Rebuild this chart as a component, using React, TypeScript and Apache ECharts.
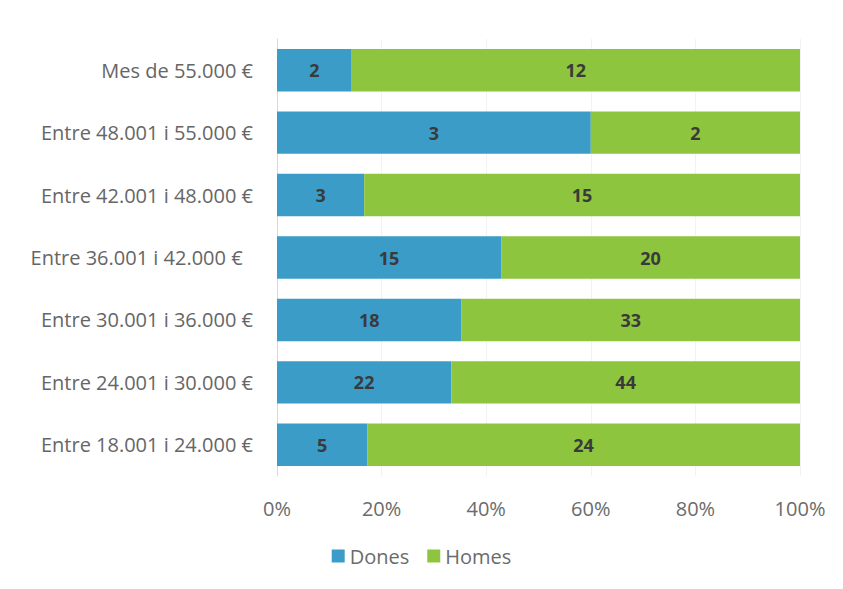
import React, { useEffect, useRef } from "react";
import * as echarts from "echarts";

const categories = [
  "Entre 18.001 i 24.000 €",
  "Entre 24.001 i 30.000 €",
  "Entre 30.001 i 36.000 €",
  "Entre 36.001 i 42.000 €\u00a0\u00a0",
  "Entre 42.001 i 48.000 €",
  "Entre 48.001 i 55.000 €",
  "Mes de 55.000 €",
];
const dones = [5, 22, 18, 15, 3, 3, 2];
const homes = [24, 44, 33, 20, 15, 2, 12];
const xTicks = [0, 20, 40, 60, 80, 100];

export default function App() {
  const ref = useRef<HTMLDivElement>(null);
  useEffect(() => {
    if (!ref.current) return;
    const chart = echarts.init(ref.current, undefined, { renderer: "svg" });
    const totals = dones.map((d, i) => d + homes[i]);
    const pct = (arr: number[]) =>
      arr.map((v, i) => ({ value: (v / totals[i]) * 100, raw: v }));
    const labelCfg = {
      show: true,
      position: "inside",
      color: "#3a3a3a",
      fontSize: 18,
      fontWeight: "bold",
      fontFamily: "Open Sans",
      formatter: (p: any) => String(p.data.raw),
    };
    chart.setOption({
      animation: false,
      grid: { left: 277, right: 43, top: 39, bottom: 113, containLabel: false },
      xAxis: {
        type: "value",
        min: 0,
        max: 100,
        interval: 20,
        axisLine: { show: false },
        axisTick: { show: false },
        splitLine: { show: true, lineStyle: { color: "#f2f2f2", width: 1 } },
        axisLabel: {
          color: "#6b6b6b",
          fontSize: 20,
          fontFamily: "Open Sans",
          margin: 22,
          formatter: (v: number) => (xTicks.includes(v) ? v + "%" : ""),
        },
      },
      yAxis: {
        type: "category",
        data: categories,
        axisLine: { show: true, lineStyle: { color: "#d9d9d9" } },
        axisTick: { show: false },
        axisLabel: {
          color: "#666666",
          fontSize: 20,
          fontFamily: "Open Sans",
          margin: 24,
        },
      },
      legend: {
        bottom: 18,
        left: "center",
        itemWidth: 13,
        itemHeight: 13,
        itemGap: 18,
        icon: "rect",
        textStyle: { color: "#6b6b6b", fontSize: 20, fontFamily: "Open Sans" },
        data: ["Dones", "Homes"],
      },
      series: [
        {
          name: "Dones",
          type: "bar",
          stack: "total",
          barCategoryGap: "32%",
          itemStyle: { color: "#3a9cc7" },
          label: labelCfg,
          data: pct(dones),
        },
        {
          name: "Homes",
          type: "bar",
          stack: "total",
          barCategoryGap: "32%",
          itemStyle: { color: "#8ec53f" },
          label: labelCfg,
          data: pct(homes),
        },
      ],
    });
    return () => chart.dispose();
  }, []);
  return (
    <div
      ref={ref}
      style={{ position: "fixed", left: 0, top: 0, width: 843, height: 589, background: "#fff" }}
    />
  );
}
